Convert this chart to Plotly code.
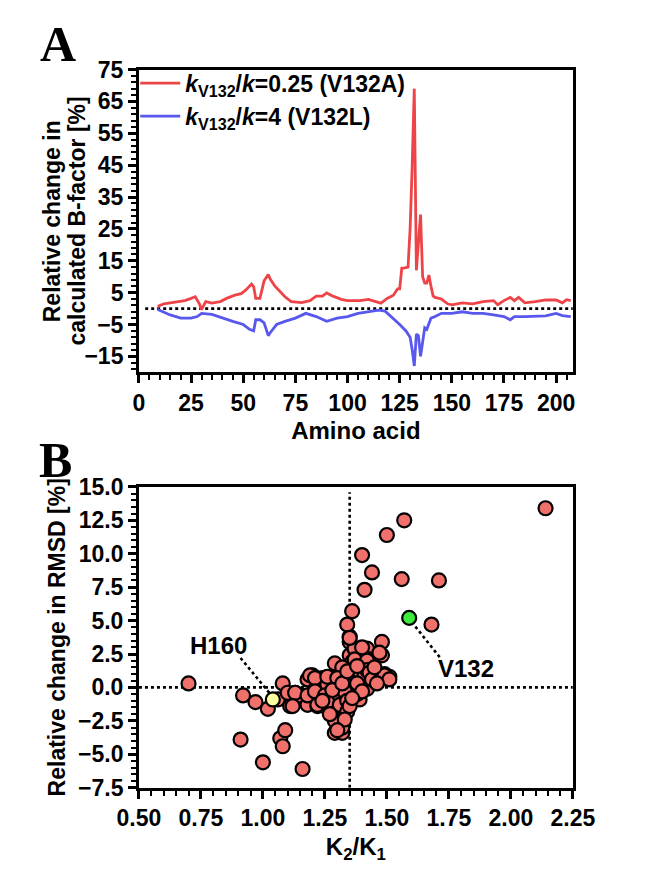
import plotly.graph_objects as go

# ---- panel A: relative change in calculated B-factor per residue ----
aa_red = [9, 12, 15, 18, 22, 25, 27, 29, 30, 32, 35, 39, 42, 46, 49, 51, 53, 54, 55, 56, 58,
          60, 62, 63, 65, 68, 70, 73, 78, 82, 85, 88, 90, 93, 97, 100, 106, 110, 113, 116, 119,
          122, 124, 125, 126, 127, 129, 130, 131, 132, 133, 134, 135, 136, 137, 138, 139, 140,
          141, 142, 145, 148, 150, 155, 160, 165, 170, 172, 175, 178, 180, 182, 185, 190, 195,
          200, 203, 205, 207]
red = [0.7, 1.5, 1.8, 2.2, 2.5, 3.2, 3.7, 1.5, -0.3, 2.2, 1.7, 2.2, 3.2, 4.2, 4.7, 5.7, 7.2,
       7.7, 6.9, 3.2, 3.2, 8.7, 10.7, 9.2, 7.2, 5.2, 3.7, 2.2, 1.9, 2.5, 3.9, 3.9, 4.9, 3.9,
       2.9, 2.5, 2.5, 2.9, 2.2, 1.7, 3.2, 4.2, 6.2, 6.2, 12.7, 12.7, 13.0, 25.0, 45.0, 69.0, 12.0,
       20.0, 29.5, 10.0, 8.0, 8.0, 10.5, 7.0, 4.0, 3.5, 3.0, 1.5, 1.2, 1.8, 1.5, 2.2, 2.5, 1.2,
       2.5, 3.5, 2.5, 3.5, 1.8, 2.2, 2.7, 2.7, 1.8, 2.8, 2.5]

aa_blue = [9, 12, 15, 20, 25, 28, 30, 35, 40, 45, 50, 53, 55, 56, 58, 60, 62, 63, 66, 70, 75,
           80, 85, 90, 95, 100, 105, 110, 115, 118, 120, 123, 125, 128, 130, 131, 132, 133, 134,
           135, 136, 137, 138, 139, 140, 142, 145, 150, 155, 160, 165, 170, 175, 178, 180, 185,
           190, 195, 200, 203, 207]
blue = [-0.3, -1.2, -2.0, -3.0, -3.0, -2.5, -1.5, -1.8, -3.0, -4.0, -5.0, -6.5, -7.0, -3.5,
        -3.5, -4.5, -8.5, -7.5, -5.0, -4.0, -3.0, -1.5, -2.5, -4.0, -3.0, -2.5, -1.5, -1.0,
        -0.5, -0.8, -2.0, -3.5, -5.0, -7.0, -9.0, -13.0, -18.0, -8.0, -8.5, -15.0, -10.0, -6.0,
        -6.5, -5.0, -3.0, -2.5, -1.5, -1.5, -1.0, -1.5, -1.5, -2.0, -2.5, -3.5, -2.5, -2.5,
        -2.5, -2.3, -1.5, -2.2, -2.5]

# ---- panel B: K2/K1 vs relative change in RMSD ----
k_ratio = [0.70, 0.92, 0.91, 0.97, 1.02, 1.00, 1.08, 1.06, 1.07, 1.09, 1.08, 1.11, 1.13, 1.16,
           1.10, 1.15, 1.18, 1.18, 1.20, 1.21, 1.22, 1.25, 1.24, 1.26, 1.29, 1.29, 1.31, 1.32,
           1.32, 1.29, 1.30, 1.31, 1.33, 1.33, 1.35, 1.35, 1.35, 1.36, 1.36, 1.37, 1.40, 1.44,
           1.41, 1.56, 1.71, 1.68, 1.36, 1.34, 1.35, 1.48, 1.42, 1.48, 1.37, 1.43, 1.32, 1.40,
           1.57, 1.50, 2.14, 1.19, 1.21, 1.26, 1.30, 1.36, 1.43, 1.51, 1.49, 1.13, 1.18, 1.21,
           1.25, 1.29, 1.31, 1.35, 1.42, 1.39, 1.26, 1.31, 1.22, 1.12, 1.34, 1.37, 1.37, 1.38,
           1.39, 1.40, 1.41, 1.42, 1.42, 1.43, 1.44, 1.48, 1.49, 1.51, 1.46, 1.47, 1.38, 1.33,
           1.34, 1.35, 1.33, 1.30, 1.27, 1.24, 1.28, 1.32, 1.34, 1.38, 1.45, 1.40, 1.36]
rmsd = [0.3, -0.6, -3.9, -1.1, -1.6, -5.6, 0.3, -0.9, -3.8, -3.2, -4.4, -1.4, -0.4, -6.1,
        -0.4, -0.6, 0.6, -1.3, 0.9, -0.2, -1.4, -1.4, 0.7, 0.2, 1.8, -3.4, -2.7, -3.4, -3.0,
        -2.5, -0.6, -1.1, -1.8, -2.1, 3.4, 3.8, 2.4, 1.9, 0.6, 2.9, 9.9, 8.6, 7.3, 8.1, 8.0,
        4.7, 5.7, 4.7, 3.7, 3.4, 2.9, 2.4, 2.1, 2.1, 1.5, 1.2, 12.5, 11.4, 13.4, 0.9, 0.7, 0.8,
        0.7, 0.7, 0.9, 0.8, 1.0, -0.4, -0.6, -0.3, -0.6, -0.6, -0.1, 0.1, -0.1, -0.9, -1.1,
        -1.3, -1.3, -1.4, -1.8, 1.0, -0.5, -0.5, 1.2, 3.0, 0.9, 2.0, 1.3, 1.1, 0.6, 0.9, 0.9,
        0.6, 0.3, 2.6, 0.3, -0.3, -1.0, -1.4, -2.4, -3.2, -2.0, -1.0, -0.2, 0.3, 1.2, 1.6, 1.5,
        -0.3, -0.8]
h160 = (1.04, -0.9)
v132 = (1.59, 5.2)
k_cut = 1.35

FONT = "Liberation Sans"
W, H = 653, 882


def px_x(p):
    return p / W


def px_y(p):
    return 1 - p / H


def bold(size):
    return dict(family=FONT, size=size, color="black", weight="bold")


fig = go.Figure()

fig.add_trace(go.Scatter(x=aa_red, y=red, mode="lines", xaxis="x", yaxis="y",
                         line=dict(color="rgb(238,68,72)", width=2.8),
                         name="<i>k</i><sub>V132</sub>/<i>k</i>=0.25 (V132A)"))
fig.add_trace(go.Scatter(x=aa_blue, y=blue, mode="lines", xaxis="x", yaxis="y",
                         line=dict(color="rgb(88,88,238)", width=2.8),
                         name="<i>k</i><sub>V132</sub>/<i>k</i>=4 (V132L)"))

marker_line = dict(color="black", width=2.2)
fig.add_trace(go.Scatter(x=k_ratio, y=rmsd, mode="markers", xaxis="x2", yaxis="y2",
                         marker=dict(size=14, color="rgb(240,112,108)", line=marker_line),
                         showlegend=False))
fig.add_trace(go.Scatter(x=[h160[0]], y=[h160[1]], mode="markers", xaxis="x2", yaxis="y2",
                         marker=dict(size=14, color="rgb(255,255,160)", line=marker_line),
                         showlegend=False))
fig.add_trace(go.Scatter(x=[v132[0]], y=[v132[1]], mode="markers", xaxis="x2", yaxis="y2",
                         marker=dict(size=14, color="rgb(60,235,60)", line=marker_line),
                         showlegend=False))

dot = dict(color="black", width=2.6, dash="dot")
# zero line panel A
fig.add_shape(type="line", xref="x", yref="y", x0=3, x1=208, y0=0, y1=0, line=dot, layer="below")
# reference lines panel B
fig.add_shape(type="line", xref="x2", yref="y2", x0=0.5, x1=2.25, y0=0, y1=0, line=dot, layer="below")
fig.add_shape(type="line", xref="x2", yref="y2", x0=k_cut, x1=k_cut, y0=-7.5, y1=14.6, line=dot, layer="below")
# leader lines for labels
fig.add_shape(type="line", xref="x2", yref="y2", x0=0.91, x1=1.03, y0=2.2, y1=-0.5, line=dot, layer="below")
fig.add_shape(type="line", xref="x2", yref="y2", x0=1.60, x1=1.72, y0=4.9, y1=2.1, line=dot, layer="below")

axis_common = dict(showline=True, linewidth=2.8, linecolor="black", mirror=True,
                   ticks="outside", ticklen=8, tickwidth=2.6, tickcolor="black",
                   showgrid=False, zeroline=False, tickfont=bold(23))
minor_common = dict(ticklen=5, tickwidth=2, tickcolor="black", ticks="outside")

x_dom = [px_x(117), px_x(583)]

fig.update_layout(
    width=W, height=H,
    margin=dict(l=0, r=0, t=0, b=0),
    plot_bgcolor="white", paper_bgcolor="white",
    xaxis=dict(domain=x_dom, anchor="y", range=[0, 208], tickvals=[0, 25, 50, 75, 100, 125, 150, 175, 200],
               minor=dict(dtick=5, **minor_common),
               title=dict(text="Amino acid", font=bold(24), standoff=8), **axis_common),
    yaxis=dict(domain=[px_y(362), px_y(50)], anchor="x", range=[-20, 75],
               tickvals=[-15, -5, 5, 15, 25, 35, 45, 55, 65, 75],
               minor=dict(dtick=2, tick0=-15, **minor_common), **axis_common),
    xaxis2=dict(domain=x_dom, anchor="y2", range=[0.5, 2.25], dtick=0.25, tickformat=".2f",
                minor=dict(dtick=0.05, **minor_common),
                title=dict(text="K<sub>2</sub>/K<sub>1</sub>", font=bold(24), standoff=8), **axis_common),
    yaxis2=dict(domain=[px_y(790), px_y(480)], anchor="x2", range=[-7.5, 15], dtick=2.5, tickformat=".1f",
                minor=dict(dtick=0.5, **minor_common),
                title=dict(text="Relative change in RMSD [%]", font=bold(23), standoff=6),
                **axis_common),
    legend=dict(x=px_x(113), y=px_y(42), xanchor="left", yanchor="top",
                bgcolor="rgba(0,0,0,0)", font=bold(23), itemwidth=40, tracegroupgap=0),
    showlegend=True,
)

# two-line y title of panel A, set as rotated annotations for tight line spacing
for txt, xc in [("Relative change in", 24), ("calculated B-factor [%]", 50)]:
    fig.add_annotation(text=txt, xref="paper", yref="paper", x=px_x(xc), y=px_y(206),
                       xanchor="center", yanchor="middle",
                       textangle=-90, showarrow=False, font=bold(23))

fig.add_annotation(text="A", xref="paper", yref="paper", x=px_x(30), y=px_y(24),
                   xanchor="center", yanchor="middle", showarrow=False,
                   font=dict(family="Liberation Serif", size=50, color="black", weight="bold"))
fig.add_annotation(text="B", xref="paper", yref="paper", x=px_x(27), y=px_y(452),
                   xanchor="center", yanchor="middle", showarrow=False,
                   font=dict(family="Liberation Serif", size=50, color="black", weight="bold"))
fig.add_annotation(text="H160", xref="x2", yref="y2", x=0.82, y=3.1, showarrow=False, font=bold(24))
fig.add_annotation(text="V132", xref="x2", yref="y2", x=1.82, y=1.4, showarrow=False, font=bold(24))

fig.write_html("out.html")
